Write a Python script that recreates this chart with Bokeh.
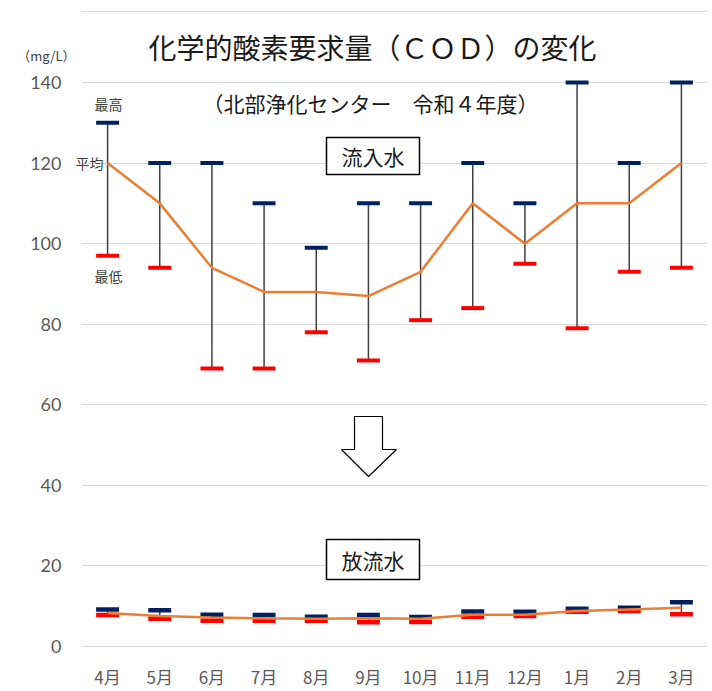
from bokeh.plotting import figure
from bokeh.models import (FactorRange, Range1d, FixedTicker, Label, BoxAnnotation,
                          PolyAnnotation, ColumnDataSource, LinearAxis)
from bokeh.embed import file_html
from bokeh.resources import INLINE

months = ["4月", "5月", "6月", "7月", "8月", "9月", "10月", "11月", "12月", "1月", "2月", "3月"]
in_max = [130, 120, 120, 110, 99, 110, 110, 120, 110, 140, 120, 140]
in_avg = [120, 110, 94, 88, 88, 87, 93, 110, 100, 110, 110, 120]
in_min = [97, 94, 69, 69, 78, 71, 81, 84, 95, 79, 93, 94]
out_max = [9.2, 9.0, 7.9, 7.8, 7.4, 7.8, 7.3, 8.7, 8.6, 9.4, 9.6, 11.0]
out_avg = [8.3, 7.6, 7.2, 7.0, 6.9, 7.0, 6.9, 7.9, 7.9, 8.8, 9.2, 9.6]
out_min = [7.8, 6.9, 6.4, 6.4, 6.4, 6.0, 6.1, 7.4, 7.6, 8.6, 8.8, 8.0]
y_ticks = [0, 20, 40, 60, 80, 100, 120, 140]
unit_label = "（mg/L）"
unit_pos = 146.7

JP = "Noto Sans CJK JP"
W, H = 712, 691

# reference-pixel -> data helpers for decorations (annotations only)
PX_X = 626 / 12.0
PX_Y = 564 / 140.0


def X(rx):
    return (rx - 81) / PX_X


def Y(ry):
    return 140 - (ry - 82) / PX_Y


p = figure(width=W, height=H, output_backend="svg", toolbar_location=None,
           x_range=FactorRange(factors=months, range_padding=0),
           y_range=Range1d(Y(648), Y(0)),
           min_border_left=81, min_border_right=5, min_border_top=0, min_border_bottom=43)
p.outline_line_color = None
p.background_fill_color = "white"
p.border_fill_color = "white"

p.xgrid.grid_line_color = None
p.ygrid.grid_line_color = "#d9d9d9"
p.ygrid.grid_line_width = 1.2
p.ygrid.ticker = FixedTicker(ticks=y_ticks)
p.yaxis.ticker = FixedTicker(ticks=y_ticks)


def plain(ax):
    ax.axis_line_color = None
    ax.major_tick_line_color = None
    ax.minor_tick_line_color = None
    ax.major_tick_out = 0
    ax.major_tick_in = 0


main_y = p.yaxis[0]
for ax in (p.xaxis[0], main_y):
    plain(ax)
    ax.major_label_text_color = "#595959"
main_y.major_label_text_font = "Lato"
main_y.major_label_text_font_size = "18px"
p.xaxis.major_label_text_font = JP
p.xaxis.major_label_text_font_size = "17px"
p.xaxis.major_label_standoff = 15

# inner helper axes carrying the "平均" marker label and the unit label
avg_axis = LinearAxis(ticker=FixedTicker(ticks=[in_avg[0]]),
                      major_label_overrides={in_avg[0]: "平均"},
                      major_label_text_font=JP, major_label_text_font_size="14px",
                      major_label_text_color="#404040", major_label_standoff=-22)
unit_axis = LinearAxis(ticker=FixedTicker(ticks=[unit_pos]),
                       major_label_overrides={unit_pos: unit_label},
                       major_label_text_font=JP, major_label_text_font_size="13px",
                       major_label_text_color="#404040", major_label_standoff=-3)
plain(avg_axis)
plain(unit_axis)
p.add_layout(avg_axis, "left")
p.add_layout(unit_axis, "left")
main_y.major_label_standoff = -47
p.left = [avg_axis, unit_axis, main_y]

src = ColumnDataSource(dict(m=months, in_max=in_max, in_avg=in_avg, in_min=in_min,
                            out_max=out_max, out_avg=out_avg, out_min=out_min))

# error bars
p.segment(x0="m", y0="in_min", x1="m", y1="in_max", source=src, line_color="#404040", line_width=1.5)
p.segment(x0="m", y0="out_min", x1="m", y1="out_max", source=src, line_color="#404040", line_width=1.5)
# caps
cap_w = 0.44
p.rect(x="m", y="in_max", width=cap_w, height=4, height_units="screen", source=src,
       fill_color="#002060", line_color=None)
p.rect(x="m", y="in_min", width=cap_w, height=4, height_units="screen", source=src,
       fill_color="#FF0000", line_color=None)
p.rect(x="m", y="out_max", width=cap_w, height=4.5, height_units="screen", source=src,
       fill_color="#002060", line_color=None)
p.rect(x="m", y="out_min", width=cap_w, height=4.5, height_units="screen", source=src,
       fill_color="#FF0000", line_color=None)
# average lines
p.line(x="m", y="in_avg", source=src, line_color="#ED7D31", line_width=2.5)
p.line(x="m", y="out_avg", source=src, line_color="#ED7D31", line_width=2.5)


def lab(text, rx, ry, size, color="#404040", font=JP):
    p.add_layout(Label(x=X(rx), y=Y(ry), text=text, text_align="center", text_baseline="middle",
                       text_font=font, text_font_size=size, text_color=color, level="overlay"))


lab("化学的酸素要求量（ＣＯＤ）の変化", 372, 46, "28px", "#1a1a1a")
lab("（北部浄化センター　令和４年度）", 370, 102, "21px", "#1a1a1a")
lab("最高", 108, 103, "14px")
lab("最低", 108, 275, "14px")

for top, bot, txt in ((137, 174, "流入水"), (539, 579, "放流水")):
    p.add_layout(BoxAnnotation(left=X(326), right=X(419), top=Y(top), bottom=Y(bot),
                               fill_color="white", fill_alpha=1, line_color="black",
                               line_alpha=1, line_width=1.5))
    lab(txt, 372.5, (top + bot) / 2, "21px", "#1a1a1a")

arrow_x = [354, 382, 382, 396, 368, 341, 354]
arrow_y = [416, 416, 449, 449, 476, 449, 449]
p.add_layout(PolyAnnotation(xs=[X(v) for v in arrow_x], ys=[Y(v) for v in arrow_y],
                            fill_color="white", fill_alpha=1, line_color="black",
                            line_alpha=1, line_width=1.2))

# chart frame edge (top) as in the reference
p.add_layout(BoxAnnotation(left=X(12), right=X(900), top=Y(11), bottom=Y(900),
                           fill_alpha=0, line_color="#d9d9d9", line_alpha=1, line_width=1.2,
                           level="overlay"))

open("out.html", "w").write(file_html(p, INLINE))
